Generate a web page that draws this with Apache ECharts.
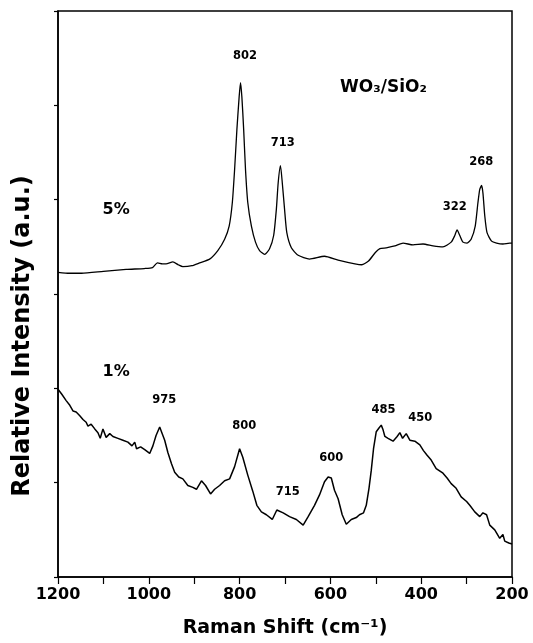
<!DOCTYPE html>
<html>
<head>
<meta charset="utf-8">
<script src="https://cdn.jsdelivr.net/npm/echarts@6/dist/echarts.min.js"></script>
<style>html,body{margin:0;padding:0;background:#fff}#c{width:533px;height:643px}</style>
</head>
<body>
<div id="c"></div>
<script>
// 5% WO3/SiO2 spectrum
const shift5 = [1200,1175,1148,1100,1050,1010,992,981,970,962,947,935,925,905,888,866,848,833,823,816,811,806,801,798,795,791,787,782,774,765,756,745,734,725,719,715,710,706,701,696,686,671,646,613,583,546,531,516,501,491,477,458,440,418,396,374,352,334,326,321,315,308,299,290,281,275,271,267,264,260,255,245,234,220,205,200];
const int5   = [3.23,3.22,3.22,3.24,3.26,3.27,3.28,3.33,3.32,3.32,3.34,3.31,3.29,3.30,3.33,3.37,3.46,3.58,3.72,3.97,4.32,4.74,5.09,5.24,5.09,4.74,4.32,3.97,3.72,3.55,3.46,3.42,3.48,3.62,3.90,4.18,4.36,4.18,3.90,3.65,3.49,3.41,3.37,3.40,3.36,3.32,3.31,3.35,3.44,3.48,3.49,3.51,3.54,3.52,3.53,3.51,3.50,3.55,3.62,3.68,3.62,3.55,3.54,3.58,3.72,3.97,4.11,4.15,4.07,3.83,3.65,3.56,3.54,3.53,3.54,3.54];
// 1% WO3/SiO2 spectrum
const shift1 = [1200,1192,1182,1174,1167,1160,1152,1145,1138,1134,1127,1119,1112,1107,1101,1094,1086,1079,1068,1057,1046,1037,1031,1027,1018,1009,998,991,984,976,972,965,958,950,943,934,925,914,903,895,884,875,864,855,844,833,822,811,800,793,782,771,762,752,741,728,718,704,690,675,660,649,635,624,613,605,598,591,583,574,565,554,543,536,527,521,515,510,505,499,493,488,484,480,473,462,453,447,441,433,425,414,403,395,387,378,367,352,343,334,323,312,300,293,282,271,264,256,249,238,227,220,216,207,200];
const int1   = [1.99,1.94,1.87,1.82,1.76,1.75,1.71,1.67,1.64,1.60,1.62,1.57,1.53,1.47,1.57,1.48,1.52,1.49,1.47,1.45,1.43,1.39,1.43,1.36,1.38,1.35,1.31,1.39,1.50,1.59,1.57,1.45,1.32,1.20,1.11,1.06,1.04,0.97,0.95,0.93,1.02,0.97,0.88,0.93,0.97,1.02,1.04,1.17,1.36,1.27,1.08,0.91,0.76,0.69,0.66,0.61,0.71,0.68,0.64,0.61,0.55,0.64,0.76,0.87,1.01,1.06,1.05,0.92,0.83,0.66,0.56,0.61,0.63,0.66,0.68,0.76,0.94,1.13,1.36,1.54,1.58,1.61,1.56,1.49,1.47,1.44,1.49,1.53,1.47,1.52,1.45,1.44,1.40,1.34,1.29,1.24,1.15,1.10,1.05,0.99,0.94,0.85,0.80,0.76,0.69,0.64,0.68,0.66,0.55,0.50,0.41,0.45,0.38,0.36,0.35];
// peak annotations
const peakText = ['802','713','322','268','975','800','715','600','485','450'];
const peakX    = [788,705,326,268,966,790,694,598,483,402];
const peakY    = [5.52,4.60,3.92,4.40,1.88,1.60,0.90,1.26,1.77,1.69];
// sample labels
const sampleText = ['5%','1%','WO₃/SiO₂'];
const sampleX    = [1072,1072,483];
const sampleY    = [3.89,2.17,5.19];
const sampleSize = [16,16,17];
// axis
const xTickLabels = [1200,1000,800,600,400,200];
const yTitle = 'Relative Intensity (a.u.)';
const xTitle = 'Raman Shift (cm⁻¹)';

const FF = '"DejaVu Sans", Verdana, sans-serif';
const zip = (a,b) => a.map((v,i)=>[v,b[i]]);

const chart = echarts.init(document.getElementById('c'), null, {renderer:'canvas'});
chart.setOption({
  animation:false,
  backgroundColor:'#fff',
  grid:{left:58,right:21,top:11,bottom:64,show:true,borderColor:'#000',borderWidth:1.5,backgroundColor:'transparent'},
  xAxis:{
    type:'value',min:200,max:1200,interval:100,inverse:true,
    name:xTitle,nameLocation:'middle',nameGap:42,
    nameTextStyle:{fontFamily:FF,fontWeight:'bold',fontSize:19,color:'#000'},
    axisLine:{show:true,lineStyle:{color:'#000',width:1.5}},
    axisTick:{show:true,length:7,lineStyle:{color:'#000',width:1.2}},
    axisLabel:{margin:10,fontFamily:FF,fontWeight:'bold',fontSize:16,color:'#000',
      formatter:v=>xTickLabels.includes(v)?String(v):''},
    splitLine:{show:false}
  },
  yAxis:{
    type:'value',min:0,max:6,interval:1,
    axisLine:{show:true,lineStyle:{color:'#000',width:1.5}},
    axisTick:{show:true,length:4,lineStyle:{color:'#000',width:1.2}},
    axisLabel:{show:false},
    splitLine:{show:false}
  },
  graphic:[{
    type:'text',x:23,y:336,rotation:Math.PI/2,silent:true,
    style:{text:yTitle,fill:'#000',font:'bold 24px "DejaVu Sans", Verdana, sans-serif',
      align:'center',verticalAlign:'middle',textAlign:'center',textVerticalAlign:'middle'}
  }],
  series:[
    {type:'line',data:zip(shift5,int5),showSymbol:false,smooth:0.2,lineStyle:{color:'#000',width:1.3},silent:true},
    {type:'line',data:zip(shift1,int1),showSymbol:false,lineStyle:{color:'#000',width:1.5},silent:true},
    {type:'scatter',symbolSize:0,silent:true,itemStyle:{opacity:1,color:'#000'},
      data:peakText.map((t,i)=>({value:[peakX[i],peakY[i]],name:t})),
      label:{show:true,position:'inside',formatter:p=>p.name,fontFamily:FF,fontWeight:'bold',fontSize:11.5,color:'#000',opacity:1,textBorderWidth:0}},
    {type:'scatter',symbolSize:0,silent:true,itemStyle:{opacity:1,color:'#000'},
      data:sampleText.map((t,i)=>({value:[sampleX[i],sampleY[i]],name:t,label:{fontSize:sampleSize[i]}})),
      label:{show:true,position:'inside',formatter:p=>p.name,fontFamily:FF,fontWeight:'bold',fontSize:16,color:'#000',opacity:1,textBorderWidth:0}}
  ]
});
</script>
</body>
</html>
